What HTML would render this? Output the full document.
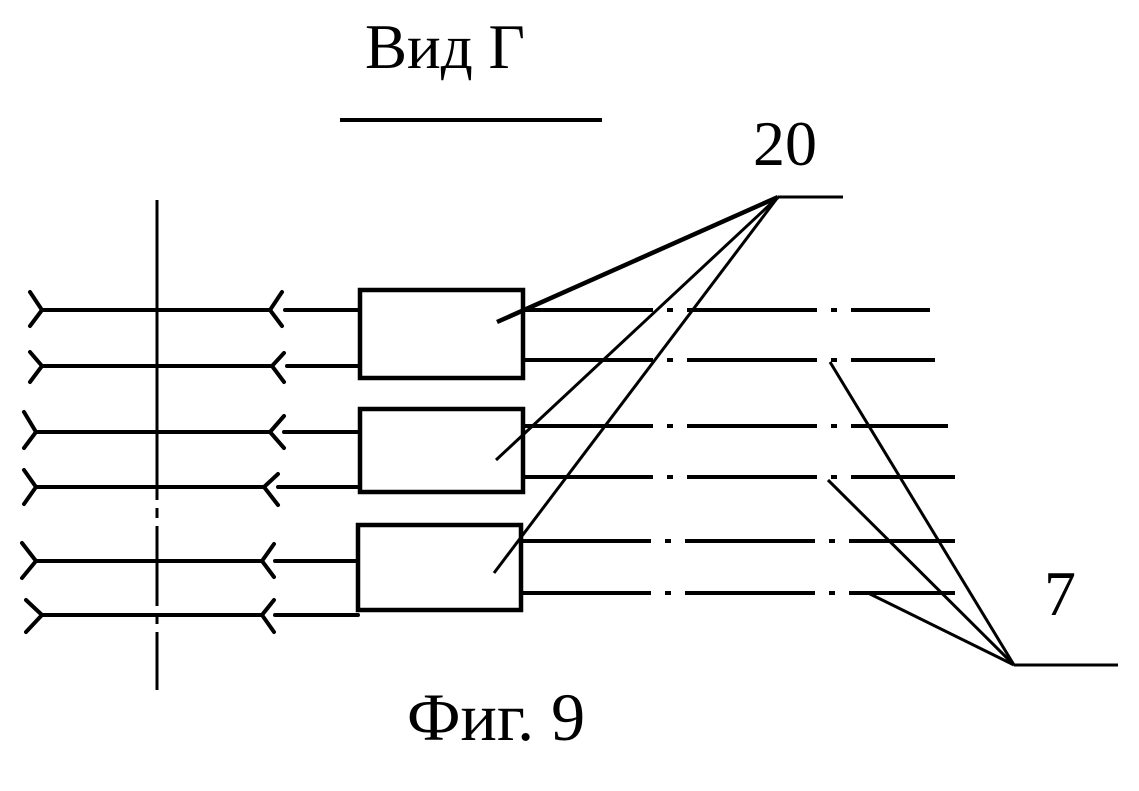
<!DOCTYPE html>
<html><head><meta charset="utf-8"><style>
body{margin:0;background:#fff}
svg{display:block}
text{font-family:"Liberation Serif",serif;fill:#000}
</style></head><body>
<svg width="1139" height="791" viewBox="0 0 1139 791" xmlns="http://www.w3.org/2000/svg">
<text x="445" y="68" font-size="63" text-anchor="middle">Вид Г</text>
<line x1="340" y1="120" x2="602" y2="120" stroke="#000" stroke-width="4"/>
<text x="785" y="165" font-size="64" text-anchor="middle">20</text>
<text x="1060" y="615" font-size="64" text-anchor="middle">7</text>
<text x="496" y="740" font-size="68" text-anchor="middle">Фиг. 9</text>
<g stroke="#000" fill="none">
<line x1="157" y1="200" x2="157" y2="420" stroke-width="3"/>
<line x1="157" y1="420" x2="157" y2="690" stroke-width="3" stroke-dasharray="80,8,10,8"/>
<g stroke-width="4.5">
<rect x="360" y="290" width="163" height="88"/>
<rect x="360" y="409" width="163" height="83"/>
<rect x="358" y="525" width="163" height="85"/>
</g>
<g stroke-width="4" stroke-linecap="round">
<path d="M30 292 L42 310 L30 326 M42 310 H270 M282 292 L270 310 L282 326 M285 310 H360"/>
<path d="M30 352 L42 366 L30 382 M42 366 H272 M284 353 L272 366 L284 382 M287 366 H360"/>
<path d="M24 412 L36 432 L24 448 M36 432 H270 M284 416 L270 432 L284 448 M284 432 H360"/>
<path d="M24 470 L36 487 L24 504 M36 487 H264 M278 474 L264 487 L278 505 M278 487 H360"/>
<path d="M22 543 L36 561 L22 578 M36 561 H262 M274 544 L262 561 L274 577 M275 561 H358"/>
<path d="M26 600 L42 615 L26 632 M42 615 H262 M274 600 L262 615 L274 632 M275 615 H358"/>
</g>
<g stroke-width="4" stroke-dasharray="130,14,6,14">
<line x1="523" y1="310" x2="930" y2="310"/>
<line x1="523" y1="360" x2="935" y2="360"/>
<line x1="523" y1="426" x2="948" y2="426"/>
<line x1="523" y1="477" x2="955" y2="477"/>
<line x1="521" y1="541" x2="955" y2="541"/>
<line x1="521" y1="593" x2="955" y2="593"/>
</g>
<g stroke-width="3">
<line x1="778" y1="197" x2="843" y2="197"/>
<line x1="778" y1="197" x2="497" y2="322" stroke-width="4.5"/>
<line x1="778" y1="197" x2="496" y2="460"/>
<line x1="778" y1="197" x2="494" y2="573"/>
<line x1="1014" y1="665" x2="1118" y2="665"/>
<line x1="1014" y1="665" x2="830" y2="362"/>
<line x1="1014" y1="665" x2="828" y2="480"/>
<line x1="1014" y1="665" x2="868" y2="593"/>
</g>
</g>
</svg>
</body></html>
